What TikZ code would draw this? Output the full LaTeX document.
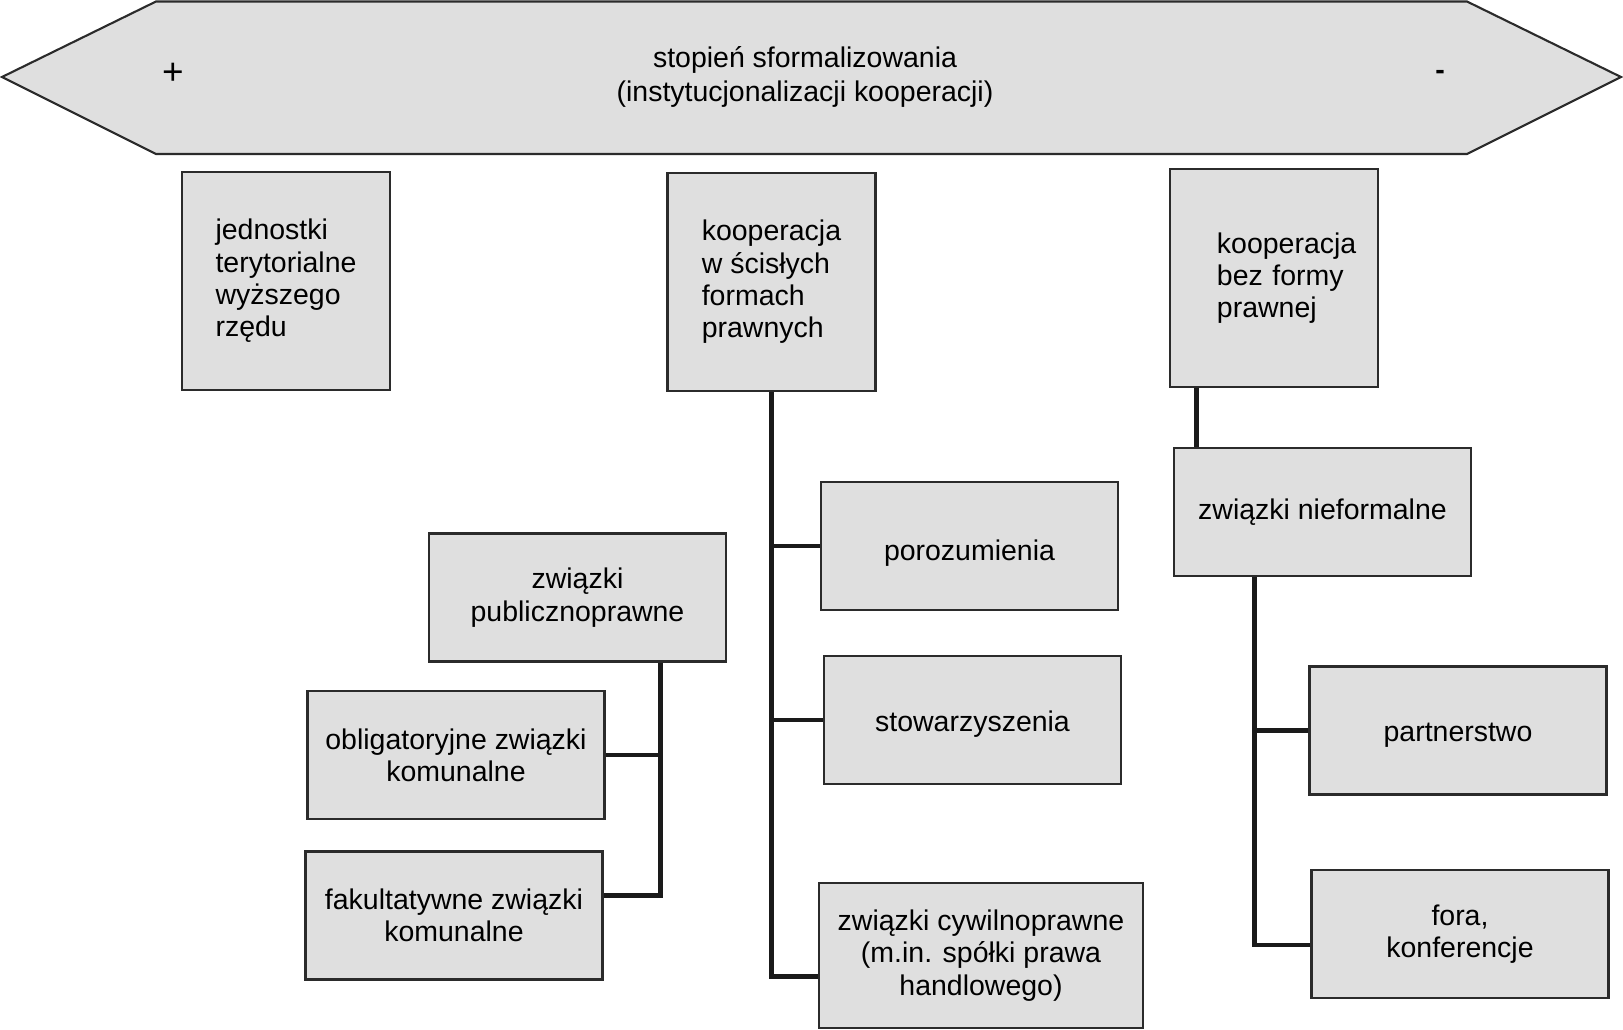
\documentclass[tikz,border=0pt]{standalone}
\usepackage{fontspec}
\setmainfont{Liberation Sans}
\usepackage{tikz}
\usetikzlibrary{positioning}
\definecolor{boxfill}{HTML}{DFDFDF}
\definecolor{boxline}{HTML}{2B2B2B}
\definecolor{connline}{HTML}{1A1A1A}

\begin{document}
\begin{tikzpicture}[x=0.01cm,y=-0.01cm,
  box/.style={draw=boxline,fill=boxfill,line width=0.7pt,minimum width=2.97cm,minimum height=1.28cm,align=center,inner sep=0pt},
  tallbox/.style={box,minimum width=2.08cm,minimum height=2.18cm,align=left},
  conn/.style={draw=connline,line width=1.3pt}]
\tikzstyle{every node}=[font=\fontsize{8.1}{9.2}\selectfont]
\useasboundingbox (0,0) rectangle (1623,1030);
% banner
\draw[draw=boxline,fill=boxfill,line width=0.6pt] (2,77) -- (156,1.5) -- (1467,1.5) -- (1621,77) -- (1467,154) -- (156,154) -- cycle;
\node[align=center,font=\fontsize{8.1}{9.6}\selectfont] (title) at (805,77) {stopień sformalizowania\\(instytucjonalizacji kooperacji)};
\node[font=\fontsize{10.5}{12}\selectfont] (plus) at (173,74) {+};
\node (minus) at (1440,75) {\textbf{-}};
% top level
\node[tallbox] (jedn) at (286,281) {jednostki\\terytorialne\\wyższego\\rzędu};
\node[tallbox] (coop) at (771.5,282) {kooperacja\\w ścisłych\\formach\\prawnych};
\node[tallbox,text width=1.14cm] (bez) at (1274,278) {kooperacja\\bez~formy\\prawnej};
% second level
\node[box] (nief) at (1322.5,512) {związki nieformalne};
\node[box,text height=10pt] (poroz) at (969.5,546) {porozumienia};
\node[box,text height=8pt] (stow) at (972.5,720) {stowarzyszenia};
\node[box,minimum width=3.24cm,minimum height=1.45cm] (cyw) at (981,955.5) {związki cywilnoprawne\\(m.in. spółki prawa\\handlowego)};
\node[box] (publ) at (577.5,597.5) {związki\\publicznoprawne};
\node[box] (obl) at (456,755) {obligatoryjne związki\\komunalne};
\node[box] (fak) at (454,915.5) {fakultatywne związki\\komunalne};
\node[box,text height=8pt] (partn) at (1458,730.5) {partnerstwo};
\node[box] (fora) at (1460,934) {fora,\\konferencje};
% connectors
\draw[conn] (coop.south) |- ([yshift=-0.21cm]cyw.west);
\foreach \n in {poroz,stow}
  \draw[conn] (\n.west) -- (\n.west -| coop.south);
\coordinate (pj) at ([xshift=-0.67cm]publ.south east);
\draw[conn] (pj) |- ([yshift=0.2cm]fak.east);
\draw[conn] (obl.east) -- (obl.east -| pj);
\coordinate (bj) at ([xshift=0.28cm]bez.south west);
\draw[conn] (bj) -- (bj |- nief.north);
\coordinate (nj) at ([xshift=0.82cm]nief.south west);
\draw[conn] (nj) |- ([yshift=-0.11cm]fora.west);
\draw[conn] (partn.west) -- (partn.west -| nj);
\end{tikzpicture}
\end{document}
